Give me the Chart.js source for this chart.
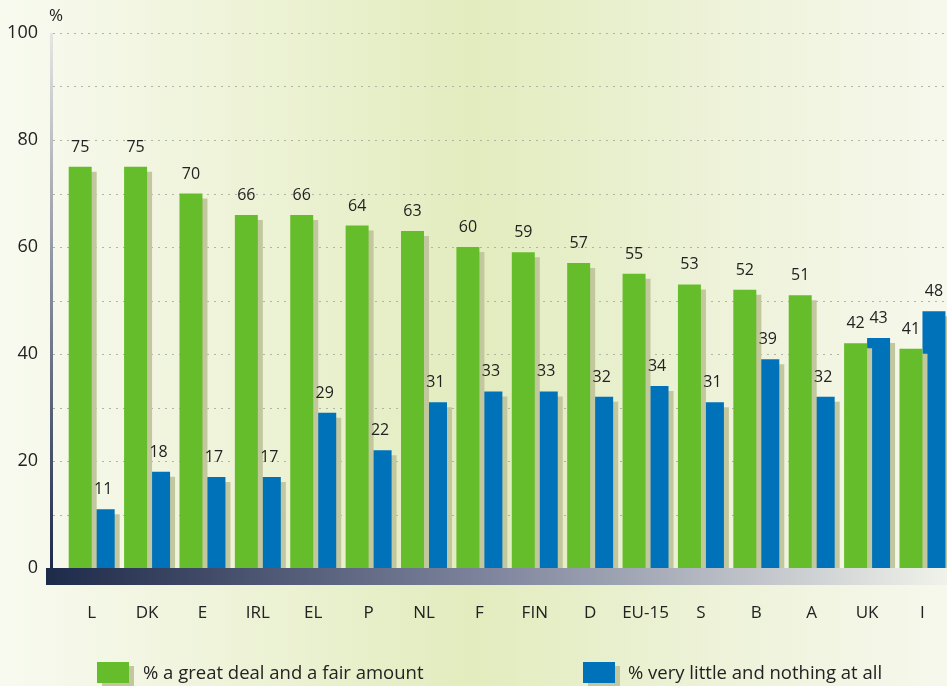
<!DOCTYPE html>
<html>
<head>
<meta charset="utf-8">
<script src="https://cdn.jsdelivr.net/npm/chart.js@4/dist/chart.umd.min.js"></script>
<style>
  body { margin: 0; overflow: hidden; }
  #wrap {
    position: relative; width: 947px; height: 686px; overflow: hidden;
    background: linear-gradient(90deg, #f8faf0 0%, #eef3d8 25%, #e2ecbe 50%, #edf2d8 75%, #f6f8ec 100%);
    font-family: "Open Sans", sans-serif; color: #222;
  }
  canvas { position: absolute; left: 0; top: 0; }
  .leg { position: absolute; top: 658px; font-size: 18.5px; line-height: 27px; white-space: nowrap; }
  .box { position: absolute; top: 4px; width: 32px; height: 21px; box-shadow: 5px 4px 0 #c3c79e; }
</style>
</head>
<body>
<div id="wrap">
  <canvas id="chart" width="960" height="686"></canvas>
  <div class="leg" style="left:97px"><span class="box" style="background:#66bd2b"></span><span style="margin-left:46px">% a great deal and a fair amount</span></div>
  <div class="leg" style="left:583px"><span class="box" style="background:#0072b9"></span><span style="margin-left:45px">% very little and nothing at all</span></div>
</div>
<script>
const countries = ["L", "DK", "E", "IRL", "EL", "P", "NL", "F", "FIN", "D", "EU-15", "S", "B", "A", "UK", "I"];
const greatDeal = [75, 75, 70, 66, 66, 64, 63, 60, 59, 57, 55, 53, 52, 51, 42, 41];
const veryLittle = [11, 18, 17, 17, 29, 22, 31, 33, 33, 32, 34, 31, 39, 32, 43, 48];
const seriesNames = ["% a great deal and a fair amount", "% very little and nothing at all"];

const decor = {
    id: "decor",
    beforeDatasetsDraw(chart) {
        const { ctx, chartArea, scales: { y } } = chart;
        // dotted grid lines, running left to the axis line
        ctx.save();
        ctx.strokeStyle = "#b0b4a2";
        ctx.lineWidth = 1;
        ctx.setLineDash([2, 5]);
        y.ticks.forEach(t => {
            if (t.value === 0) return;
            const py = Math.round(y.getPixelForValue(t.value)) + 0.5;
            ctx.beginPath();
            ctx.moveTo(53, py);
            ctx.lineTo(chartArea.right, py);
            ctx.stroke();
        });
        ctx.restore();

        // y axis line
        const top = y.getPixelForValue(100), bottom = y.getPixelForValue(0);
        const g = ctx.createLinearGradient(0, top, 0, bottom);
        g.addColorStop(0, "#e4e6e2");
        g.addColorStop(1, "#1e2a4a");
        ctx.save();
        ctx.fillStyle = g;
        ctx.fillRect(50, top, 3, bottom - top);
        ctx.restore();

        // bar shadows
        ctx.save();
        ctx.shadowColor = "#c3c79e";
        ctx.shadowOffsetX = 5;
        ctx.shadowOffsetY = 5;
        ctx.shadowBlur = 0;
    },
    afterDatasetsDraw(chart) {
        const { ctx, scales: { y } } = chart;
        ctx.restore();

        // x axis band
        const base = y.getPixelForValue(0);
        const g = ctx.createLinearGradient(46, 0, 947, 0);
        g.addColorStop(0, "#1e2a4a");
        g.addColorStop(0.5, "#80869e");
        g.addColorStop(1, "#f0f2ea");
        ctx.save();
        ctx.fillStyle = g;
        ctx.fillRect(46, base, chart.width - 46, 17);

        // value labels
        ctx.fillStyle = "#222";
        ctx.font = "16px 'Open Sans', sans-serif";
        ctx.textAlign = "center";
        ctx.textBaseline = "alphabetic";
        chart.data.datasets.forEach((ds, i) => {
            chart.getDatasetMeta(i).data.forEach((bar, j) => {
                ctx.fillText(ds.data[j], bar.x, bar.y - 15);
            });
        });

        // unit
        ctx.font = "17px 'Open Sans', sans-serif";
        ctx.textAlign = "left";
        ctx.fillText("%", 49, 21);
        ctx.restore();
    }
};

new Chart(document.getElementById("chart"), {
    type: "bar",
    data: {
        labels: countries,
        datasets: [
            { label: seriesNames[0], data: greatDeal, backgroundColor: "#66bd2b" },
            { label: seriesNames[1], data: veryLittle, backgroundColor: "#0072b9" }
        ]
    },
    options: {
        responsive: false,
        animation: false,
        layout: { padding: { top: 33, right: 5, bottom: 61, left: 0 } },
        categoryPercentage: 0.83,
        barPercentage: 1,
        plugins: { legend: { display: false }, tooltip: { enabled: false } },
        scales: {
            x: {
                grid: { display: false, drawTicks: false },
                border: { display: false },
                ticks: { color: "#222", padding: 35, font: { family: "'Open Sans', sans-serif", size: 17 } },
                afterFit: scale => { scale.height = 57; }
            },
            y: {
                min: 0, max: 100,
                grid: { display: false, drawTicks: false },
                border: { display: false },
                ticks: {
                    stepSize: 10,
                    color: "#222",
                    padding: 26,
                    font: { family: "'Open Sans', sans-serif", size: 18 },
                    callback: v => (v % 20 === 0 ? v : "")
                },
                afterFit: scale => {
                    scale.width = 64;
                    scale.paddingTop = 0;
                    scale.paddingBottom = 0;
                }
            }
        }
    },
    plugins: [decor]
});
</script>
</body>
</html>
